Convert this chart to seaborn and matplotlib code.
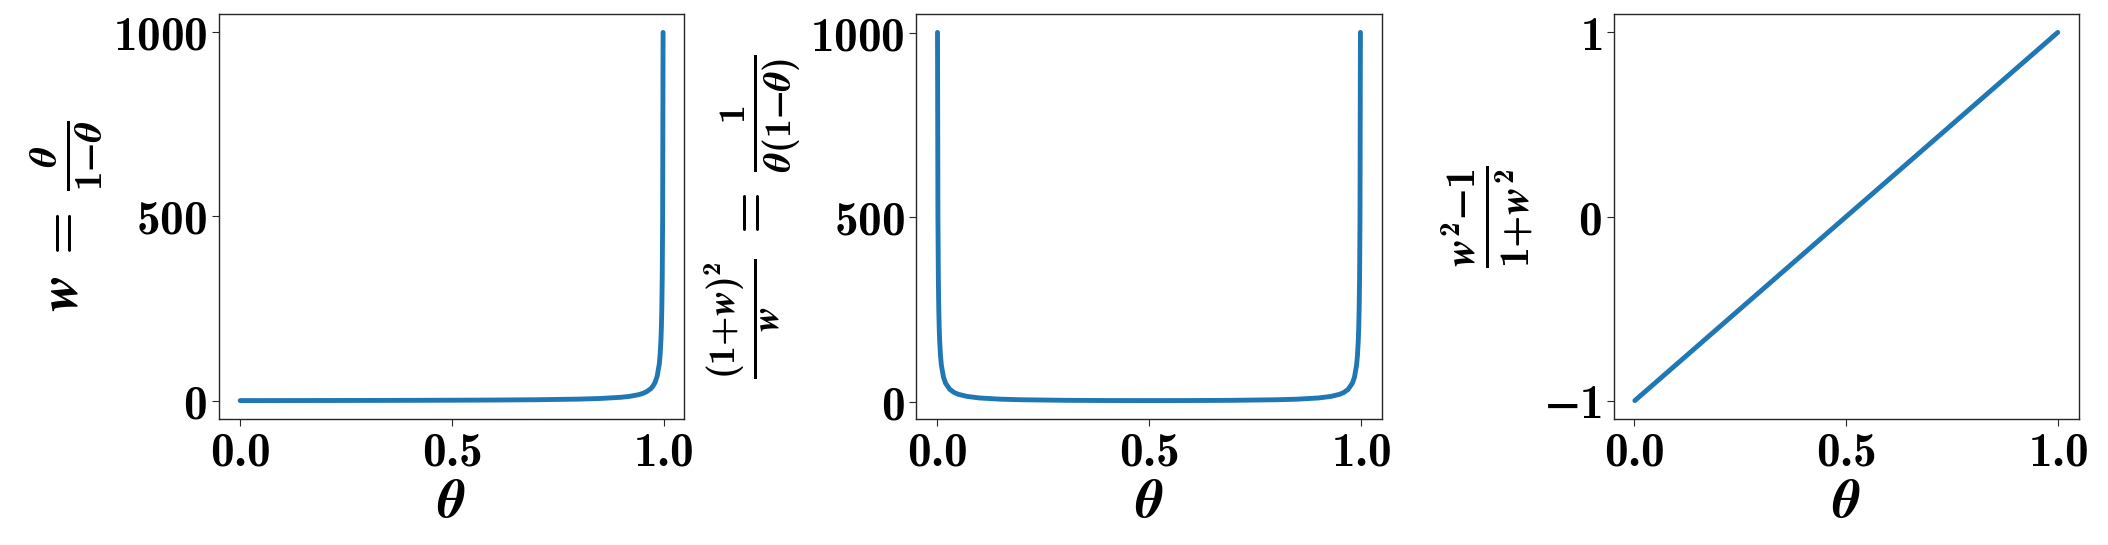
import matplotlib
matplotlib.use("Agg")
import matplotlib.pyplot as plt
import seaborn as sns

# --------------------------------------------------
# Data
# --------------------------------------------------
theta_w = [0.001, 0.1, 0.2, 0.3, 0.4, 0.5, 0.6, 0.7, 0.8, 0.85, 0.9, 0.92,
           0.94, 0.95, 0.96, 0.97, 0.975, 0.98, 0.985, 0.99, 0.992, 0.994,
           0.995, 0.996, 0.997, 0.998, 0.999]
w_vals = [0.0, 0.11, 0.25, 0.43, 0.67, 1.0, 1.5, 2.33, 4.0, 5.67, 9.0, 11.5,
          15.7, 19.0, 24.0, 32.3, 39.0, 49.0, 65.7, 99.0, 124.0, 166.0,
          199.0, 249.0, 332.0, 499.0, 999.0]

theta_v = [0.001, 0.002, 0.003, 0.004, 0.005, 0.006, 0.008, 0.01, 0.015, 0.02,
           0.03, 0.04, 0.05, 0.07, 0.1, 0.15, 0.2, 0.3, 0.4, 0.5,
           0.6, 0.7, 0.8, 0.85, 0.9, 0.93, 0.95, 0.96, 0.97, 0.98,
           0.985, 0.99, 0.992, 0.994, 0.995, 0.996, 0.997, 0.998, 0.999]
var_vals = [1001.0, 501.0, 334.0, 251.0, 201.0, 168.0, 126.0, 101.0, 67.7, 51.0,
            34.4, 26.0, 21.1, 15.4, 11.1, 7.8, 6.25, 4.76, 4.17, 4.0,
            4.17, 4.76, 6.25, 7.8, 11.1, 15.4, 21.1, 26.0, 34.4, 51.0,
            67.7, 101.0, 126.0, 168.0, 201.0, 251.0, 334.0, 501.0, 1001.0]

theta_r = [0.001, 0.5, 0.999]
r_vals = [-0.998, 0.0, 0.998]

x_ticks = [0.0, 0.5, 1.0]
x_ticklabels = [r"$0.0$", r"$0.5$", r"$1.0$"]
y_ticks_big = [0, 500, 1000]
y_ticklabels_big = [r"$0$", r"$500$", r"$1000$"]
y_ticks_r = [-1, 0, 1]
y_ticklabels_r = [r"$\mathsf{-}1$", r"$0$", r"$1$"]

x_label = r"$\theta$"
# grouped operators stay tight, like TeX's script style
y_labels = [r"$w\;=\;\frac{\theta}{1\mathsf{-}\theta}$",
            r"$\frac{(1{+}w)^2}{w}\;=\;\frac{1}{\theta(1\mathsf{-}\theta)}$",
            r"$\frac{w^2\mathsf{-}1}{1{+}w^2}$"]

# --------------------------------------------------
# Style
# --------------------------------------------------
sns.set_style("ticks")
plt.rcParams["mathtext.fontset"] = "custom"
plt.rcParams["mathtext.rm"] = "cmb10"
plt.rcParams["mathtext.bf"] = "cmb10"
plt.rcParams["mathtext.it"] = "STIXGeneral:italic:bold"
plt.rcParams["mathtext.sf"] = "STIXGeneral:bold"
plt.rcParams["text.color"] = "black"
plt.rcParams["axes.labelcolor"] = "black"
plt.rcParams["xtick.labelcolor"] = "black"
plt.rcParams["ytick.labelcolor"] = "black"
plt.rcParams["xtick.major.size"] = 5
plt.rcParams["ytick.major.size"] = 5

LINE_COLOR = "#1f77b4"
TICK_FS = 34
XLABEL_FS = 39
YLABEL_FS = [40, 39, 43]

fig, axes = plt.subplots(1, 3, figsize=(21.08, 5.45), dpi=100)
fig.subplots_adjust(left=0.1039, right=0.9862, bottom=0.2312, top=0.9743, wspace=0.499)

series = [(theta_w, w_vals, y_ticks_big, y_ticklabels_big),
          (theta_v, var_vals, y_ticks_big, y_ticklabels_big),
          (theta_r, r_vals, y_ticks_r, y_ticklabels_r)]

for ax, (xs, ys, yt, ytl), ylab, yfs in zip(axes, series, y_labels, YLABEL_FS):
    sns.lineplot(x=xs, y=ys, ax=ax, color=LINE_COLOR, linewidth=3.5, estimator=None)
    ax.set_xticks(x_ticks)
    ax.set_xticklabels(x_ticklabels, fontsize=TICK_FS)
    ax.set_yticks(yt)
    ax.set_yticklabels(ytl, fontsize=TICK_FS)
    ax.set_xlabel(x_label, fontsize=XLABEL_FS, labelpad=0)
    ax.set_ylabel(ylab, fontsize=yfs, labelpad=6)
    for s in ax.spines.values():
        s.set_linewidth(1.0)

fig.savefig("out.png", dpi=100)
